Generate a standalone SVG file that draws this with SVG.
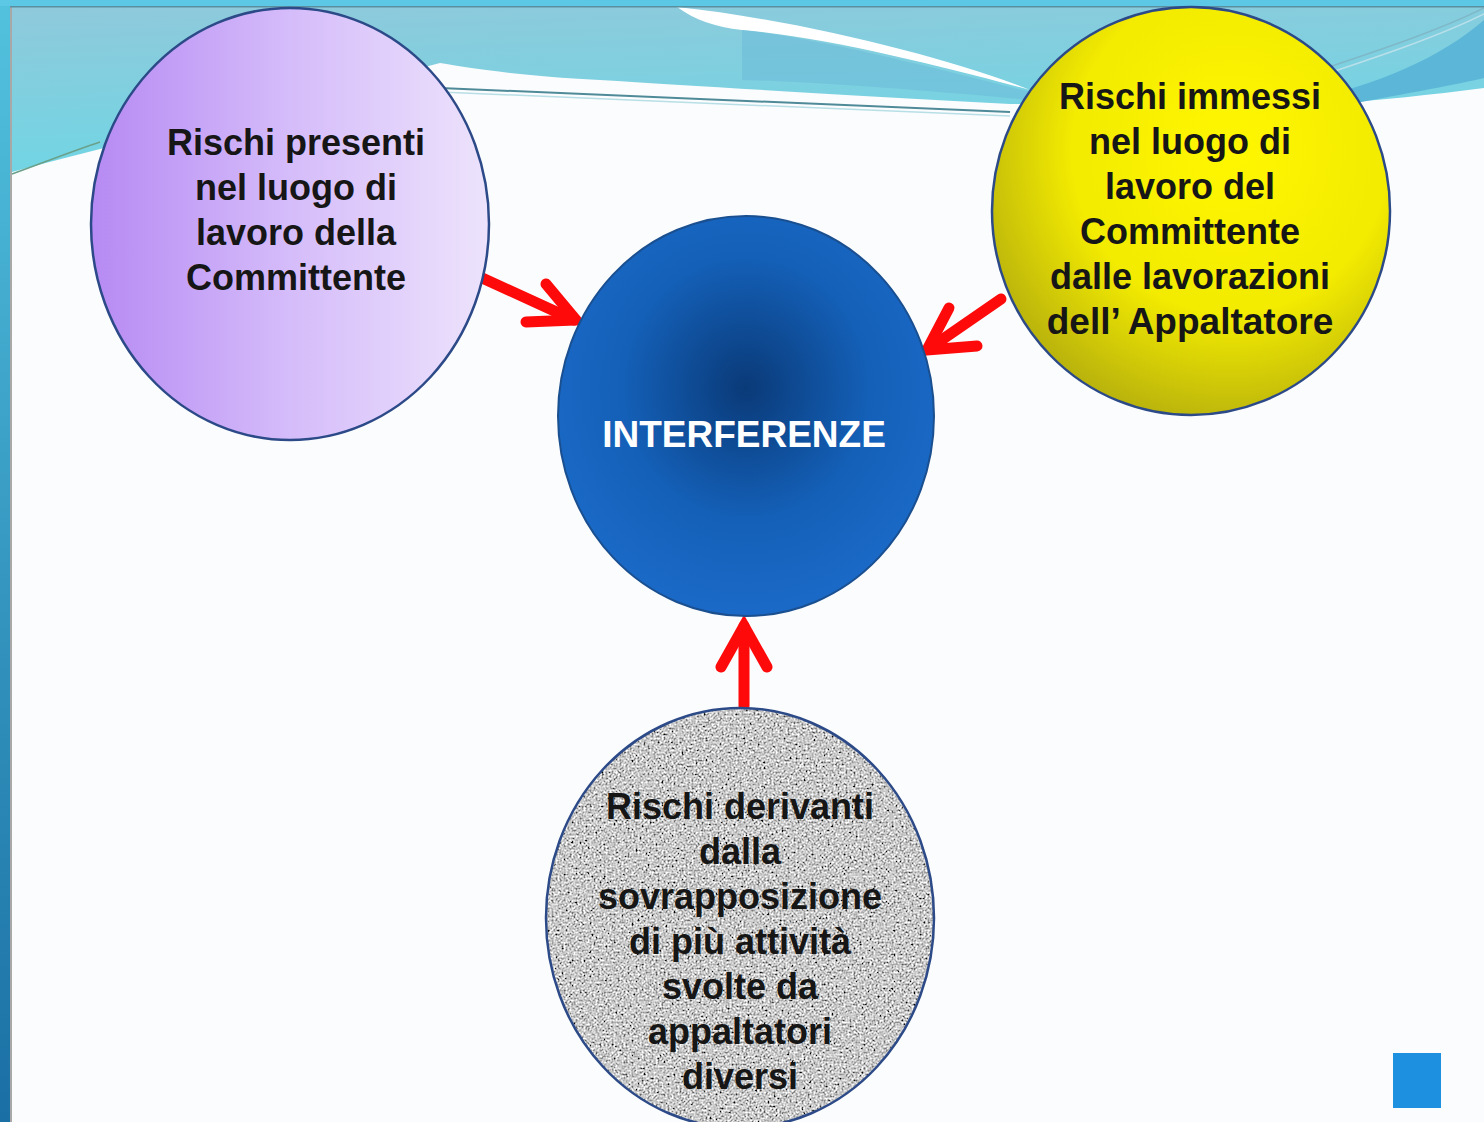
<svg xmlns="http://www.w3.org/2000/svg" width="1484" height="1122" viewBox="0 0 1484 1122">
<defs>
<style>
.lbl{font-family:"Liberation Sans",Arial,sans-serif;font-weight:bold;font-size:36px;fill:#161616;text-anchor:middle}
.ttl{font-family:"Liberation Sans",Arial,sans-serif;font-weight:bold;font-size:37px;fill:#ffffff;text-anchor:middle}
.ring{stroke:#2c4a88;stroke-width:2.5}
.arr{fill:none;stroke:#ff0a0a;stroke-width:11;stroke-linecap:round;stroke-linejoin:miter}
</style>
<linearGradient id="leftbar" x1="0" y1="0" x2="0" y2="1">
<stop offset="0" stop-color="#52c2de"/><stop offset="1" stop-color="#1a6fa4"/>
</linearGradient>
<linearGradient id="sky" x1="0" y1="0" x2="0.3" y2="1">
<stop offset="0" stop-color="#8fc9db"/><stop offset="1" stop-color="#6fd6e4"/>
</linearGradient>
<linearGradient id="purple" x1="0" y1="0" x2="1" y2="0">
<stop offset="0" stop-color="#b68af3"/><stop offset="0.5" stop-color="#d5bcfa"/><stop offset="1" stop-color="#ede3fc"/>
</linearGradient>
<radialGradient id="yellow" cx="0.6" cy="0.35" r="0.8">
<stop offset="0" stop-color="#fff700"/><stop offset="0.5" stop-color="#f3eb00"/><stop offset="1" stop-color="#a09a12"/>
</radialGradient>
<radialGradient id="blue" cx="0.5" cy="0.43" r="0.55">
<stop offset="0" stop-color="#0a3a78"/><stop offset="0.6" stop-color="#1460b8"/><stop offset="1" stop-color="#1a69c6"/>
</radialGradient>
<filter id="granite" x="0" y="0" width="100%" height="100%">
<feTurbulence type="fractalNoise" baseFrequency="0.5" numOctaves="3" seed="7" result="noise"/>
<feColorMatrix in="noise" type="matrix" values="0.33 0.33 0.33 0 0 0.33 0.33 0.33 0 0 0.33 0.33 0.33 0 0 0 0 0 0 1" result="gray"/>
<feComponentTransfer in="gray" result="c">
<feFuncR type="linear" slope="3.4" intercept="-1.1"/>
<feFuncG type="linear" slope="3.4" intercept="-1.1"/>
<feFuncB type="linear" slope="3.4" intercept="-1.1"/>
</feComponentTransfer>
<feComposite in="c" in2="SourceGraphic" operator="in"/>
</filter>
</defs>

<g id="background">
<rect x="0" y="0" width="1484" height="1122" fill="#fbfcfd"/>
<path d="M12,6 H1484 V88 C1430,95 1380,100 1330,104 L1010,104 C850,96 700,86 600,80 C520,76 470,68 440,63 C300,100 150,135 12,172 Z" fill="url(#sky)"/>
<path d="M677,7 C800,20 950,58 1030,90 C940,66 830,38 742,30 C715,27 695,20 677,7 Z" fill="#ffffff"/>
<path d="M742,30 C830,40 940,70 1030,92 L1030,100 C920,90 820,82 742,80 Z" fill="#6cbcd8" opacity="0.6"/>
<path d="M1300,102 C1380,84 1440,58 1484,20 V78 C1440,88 1380,98 1330,108 Z" fill="#5bb6d8"/>
<path d="M1320,70 C1380,50 1440,30 1484,8" fill="none" stroke="#7fb8c8" stroke-width="1.5"/>
<path d="M1320,76 C1380,56 1440,36 1484,14" fill="none" stroke="#b9e0ea" stroke-width="1.5"/>
<path d="M440,88 C600,95 800,104 1010,112" fill="none" stroke="#4f8a98" stroke-width="2"/>
<path d="M440,92 C600,99 800,108 1010,116" fill="none" stroke="#b8dfe6" stroke-width="1.5"/>
<path d="M12,174 C40,164 70,152 100,142" fill="none" stroke="#6aa08a" stroke-width="1.5"/>
<rect x="0" y="0" width="10" height="1122" fill="url(#leftbar)"/>
<rect x="10" y="6" width="2" height="1116" fill="#a8a8a8"/>
<rect x="0" y="0" width="1484" height="6" fill="#5cc8e6"/>
<rect x="10" y="6" width="1474" height="1.5" fill="#5a8fa0"/>
</g>

<g id="connectors">
<path class="arr" d="M480,277 L574,320"/>
<path class="arr" d="M546,284 L576,320 L526,322"/>
<path class="arr" d="M1001,299 L930,348"/>
<path class="arr" d="M949,308 L927,350 L977,346"/>
<path class="arr" d="M744,706 L744,626"/>
<path class="arr" d="M721,667 L744,626 L767,667"/>
</g>

<g id="node-presenti">
<ellipse cx="290" cy="224" rx="199" ry="216" fill="url(#purple)" class="ring"/>
<text class="lbl" x="296" y="155">Rischi presenti</text>
<text class="lbl" x="296" y="200">nel luogo di</text>
<text class="lbl" x="296" y="245">lavoro della</text>
<text class="lbl" x="296" y="290">Committente</text>
</g>

<g id="node-immessi">
<ellipse cx="1191" cy="211" rx="199" ry="204" fill="url(#yellow)" class="ring"/>
<text class="lbl" x="1190" y="109">Rischi immessi</text>
<text class="lbl" x="1190" y="154">nel luogo di</text>
<text class="lbl" x="1190" y="199">lavoro del</text>
<text class="lbl" x="1190" y="244">Committente</text>
<text class="lbl" x="1190" y="289">dalle lavorazioni</text>
<text class="lbl" x="1190" y="334" style="font-size:37px">dell’ Appaltatore</text>
</g>

<g id="node-interferenze">
<ellipse cx="746" cy="416" rx="188" ry="200" fill="url(#blue)" stroke="#1a4f90" stroke-width="2"/>
<text class="ttl" x="744" y="447">INTERFERENZE</text>
</g>

<g id="node-derivanti">
<ellipse cx="740" cy="918" rx="194" ry="210" fill="#a0a0a0"/>
<ellipse cx="740" cy="918" rx="194" ry="210" fill="#ffffff" filter="url(#granite)"/>
<ellipse cx="740" cy="918" rx="194" ry="210" fill="none" class="ring"/>
<text class="lbl" x="740" y="819">Rischi derivanti</text>
<text class="lbl" x="740" y="864">dalla</text>
<text class="lbl" x="740" y="909">sovrapposizione</text>
<text class="lbl" x="740" y="954">di più attività</text>
<text class="lbl" x="740" y="999">svolte da</text>
<text class="lbl" x="740" y="1044">appaltatori</text>
<text class="lbl" x="740" y="1089">diversi</text>
</g>

<rect id="corner-square" x="1393" y="1053" width="48" height="55" fill="#1e90e0"/>
</svg>
